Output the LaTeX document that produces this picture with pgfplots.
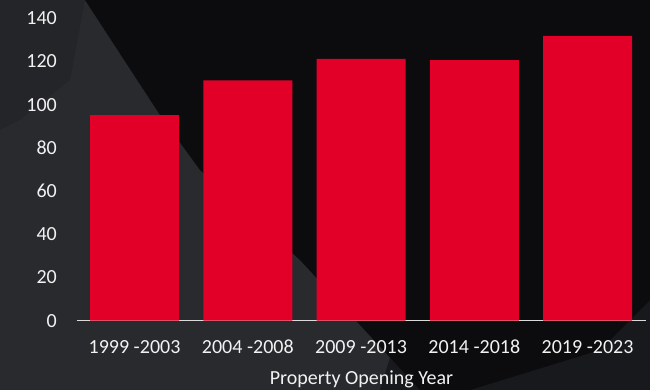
\documentclass[border=0pt]{standalone}
\usepackage{fontspec}
\setmainfont{Carlito}
\usepackage{pgfplots}
\pgfplotsset{compat=1.18}
\definecolor{bggray}{RGB}{40,42,46}
\definecolor{bgdark}{RGB}{12,12,14}
\definecolor{bgmid}{RGB}{24,25,28}
\definecolor{barred}{RGB}{227,0,40}
\definecolor{txt}{RGB}{242,242,242}
\begin{document}
\begin{tikzpicture}[x=1pt,y=1pt]
\useasboundingbox (0,0) rectangle (650,390);
\fill[bggray] (0,0) rectangle (650,390);
% image coords converted: y' = 390 - y
\fill[bgmid] (380,0) -- (650,0) -- (650,390) -- (500,390) -- cycle;
\fill[bgdark] (85,390) -- (650,390) -- (650,90) -- (600,40) -- (470,0) -- (420,0) -- (300,130) -- (200,220) -- (160,275) -- cycle;
\fill[bggray!85!bgdark] (0,390) -- (85,390) -- (70,310) -- (20,270) -- (0,260) -- cycle;
\begin{axis}[
  at={(77pt,69.3pt)}, anchor=south west,
  scale only axis, width=569pt, height=302.4pt,
  xmin=-0.508, xmax=4.516, ymin=0, ymax=140,
  axis lines=left,
  axis line style={-},
  x axis line style={draw=txt!90!black, line width=1.5pt},
  y axis line style={draw=none},
  major tick length=0pt,
  ytick={0,20,...,140},
  xtick={0,1,2,3,4},
  xticklabels={1999 -2003,2004 -2008,2009 -2013,2014 -2018,2019 -2023},
  /pgf/number format/assume math mode=true,
  tick label style={font=\fontsize{20}{24}\selectfont, text=txt},
  yticklabel style={inner sep=0pt, xshift=-20pt},
  xticklabel style={inner sep=0pt, anchor=base, yshift=-32.6pt},
  xlabel={Property Opening Year},
  xlabel style={at={(axis description cs:0.5,0)}, anchor=base, yshift=-64.3pt, inner sep=0pt, font=\fontsize{20}{24}\selectfont, text=txt},
  clip=false,
]
\addplot[ybar, bar width=89pt, fill=barred, draw=none] coordinates {(0,95.2) (1,111.3) (2,121.2) (3,120.6) (4,131.9)};
\end{axis}
\end{tikzpicture}
\end{document}
